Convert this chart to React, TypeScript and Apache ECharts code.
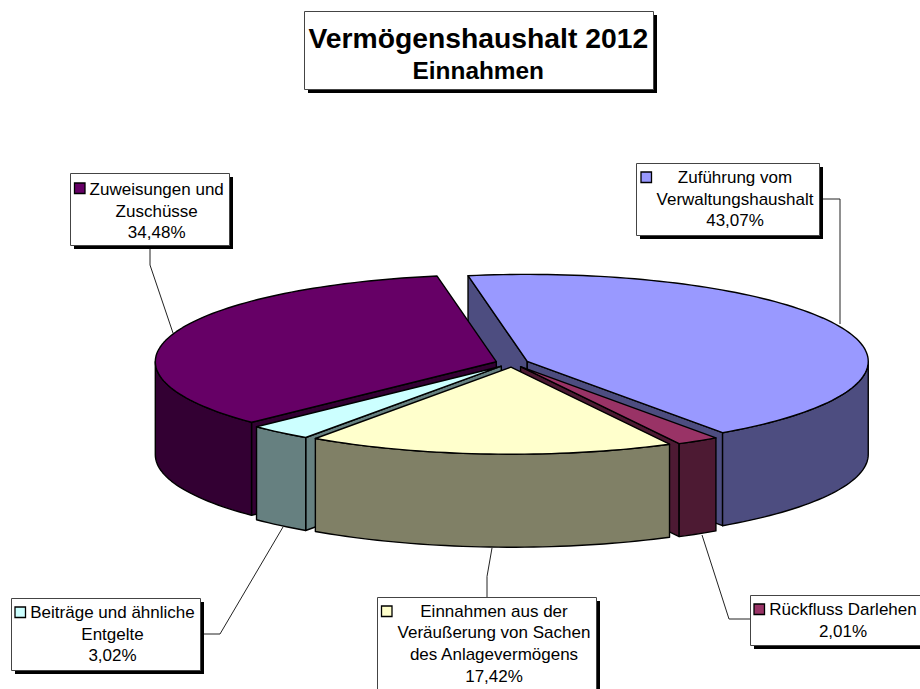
import React, { useEffect, useRef } from "react";
import * as echarts from "echarts";

const titleLines = ["Vermögenshaushalt 2012", "Einnahmen"];
const sliceNames = [
  "Zuführung vom Verwaltungshaushalt",
  "Rückfluss Darlehen",
  "Einnahmen aus der Veräußerung von Sachen des Anlagevermögens",
  "Beiträge und ähnliche Entgelte",
  "Zuweisungen und Zuschüsse",
];
const sliceValues = [43.07, 2.01, 17.42, 3.02, 34.48];
const topColors = ["#9999FF", "#993366", "#FFFFCC", "#CCFFFF", "#660066"];
const wallColors = ["#4D4D80", "#4D1A33", "#808066", "#668080", "#330033"];
// painter's order, back to front, as indexes into the slices
const paintOrder = [0, 4, 1, 3, 2];
const labelLines = [
  ["Zuführung vom", "Verwaltungshaushalt"],
  ["Rückfluss Darlehen"],
  ["Einnahmen aus der", "Veräußerung von Sachen", "des Anlagevermögens"],
  ["Beiträge und ähnliche", "Entgelte"],
  ["Zuweisungen und", "Zuschüsse"],
];

// layout
const CX = 512, CY = 363, RX = 341, RY = 87, DEPTH = 93, EXPLODE = 16.5, START_DEG = -10;
const FONT = '"Liberation Sans", Arial, sans-serif';
const labelBoxes = [
  { x: 636, y: 163, w: 183, h: 72, key: [641, 172], tx: 735, ty: 177.5, leader: [[819, 199], [840, 199], [840, 324]] },
  { x: 750, y: 595, w: 172, h: 50, key: [754, 604], tx: 843, ty: 609.8, leader: [[750, 619], [729, 619], [702, 535]] },
  { x: 377, y: 597, w: 219, h: 94, key: [381.5, 606], tx: 494, ty: 611, leader: [[487, 597], [487, 576.5], [492, 548]] },
  { x: 11, y: 598, w: 189, h: 72, key: [15, 607], tx: 112.5, ty: 612.5, leader: [[200, 634], [220, 634], [283, 527]] },
  { x: 70, y: 173, w: 159, h: 72, key: [74.5, 183], tx: 156.7, ty: 189.5, leader: [[150, 245], [150, 265], [173, 333]] },
];

const total = sliceValues.reduce((a, b) => a + b, 0);
const rad = (d: number) => (d * Math.PI) / 180;
const pct = (v: number) => v.toFixed(2).replace(".", ",") + "%";

function renderSlice(params: any) {
  const i = params.dataIndex;
  let before = 0;
  for (let k = 0; k < i; k++) before += sliceValues[k];
  const a0 = START_DEG + (before / total) * 360;
  const a1 = a0 + (sliceValues[i] / total) * 360;
  const mid = (a0 + a1) / 2;
  const tipX = CX + EXPLODE * Math.sin(rad(mid));
  const tipY = CY - EXPLODE * Math.cos(rad(mid)) * (RY / RX);
  const pt = (a: number, drop = 0): number[] => [
    tipX + RX * Math.sin(rad(a)),
    tipY - RY * Math.cos(rad(a)) + drop,
  ];
  const arc = (from: number, to: number, drop = 0) => {
    const out: number[][] = [];
    const n = Math.max(2, Math.ceil(Math.abs(to - from) / 1.5));
    for (let s = 0; s <= n; s++) out.push(pt(from + ((to - from) * s) / n, drop));
    return out;
  };
  const rank = paintOrder.indexOf(i) * 10 + 1;
  const line = { stroke: "#000", lineWidth: 1.4, lineJoin: "round" };
  const wall = { ...line, fill: wallColors[i] };
  const children: any[] = [];
  const radial = (a: number, z: number) => ({
    type: "polygon",
    z2: rank + z,
    shape: { points: [[tipX, tipY], pt(a), pt(a, DEPTH), [tipX, tipY + DEPTH]] },
    style: wall,
  });
  // a cut face is seen only when it turns towards the viewer
  if (Math.sin(rad(a0)) < 0) children.push(radial(a0, 0));
  if (Math.sin(rad(a1)) > 0) children.push(radial(a1, 1));
  // outer wall: only the part of the rim that faces the viewer
  const visFrom = Math.max(a0, 90);
  const visTo = Math.min(a1, 270);
  if (visTo > visFrom) {
    children.push({
      type: "polygon",
      z2: rank + 2,
      shape: { points: [...arc(visFrom, visTo), ...arc(visTo, visFrom, DEPTH)] },
      style: wall,
    });
  }
  children.push({
    type: "polygon",
    z2: rank + 3,
    shape: { points: [[tipX, tipY], ...arc(a0, a1)] },
    style: { ...line, fill: topColors[i] },
  });
  return { type: "group", children };
}

function box(x: number, y: number, w: number, h: number) {
  return [
    { type: "rect", z: 5, shape: { x: x + 4, y: y + 4, width: w, height: h }, style: { fill: "#000" } },
    { type: "rect", z: 6, shape: { x: x + 0.5, y: y + 0.5, width: w, height: h }, style: { fill: "#fff", stroke: "#444", lineWidth: 1 } },
  ] as any[];
}

function textLine(text: string, x: number, y: number, size: number, weight = "normal") {
  return {
    type: "text",
    z: 8,
    x,
    y,
    style: { text, fontFamily: FONT, fontSize: size, fontWeight: weight, fill: "#000", align: "center", verticalAlign: "middle" },
  };
}

function buildGraphics() {
  const out: any[] = [...box(304, 11, 349, 78)];
  out.push(textLine(titleLines[0], 478.3, 37.5, 28.3, "bold"));
  out.push(textLine(titleLines[1], 478.3, 70.5, 24.4, "bold"));
  labelBoxes.forEach((b, i) => {
    out.push({
      type: "polyline",
      z: 4,
      shape: { points: b.leader },
      style: { stroke: "#222", lineWidth: 1, fill: "none" },
    });
    out.push(...box(b.x, b.y, b.w, b.h));
    out.push({
      type: "rect",
      z: 7,
      shape: { x: b.key[0], y: b.key[1], width: 10.5, height: 10.5 },
      style: { fill: topColors[i], stroke: "#000", lineWidth: 1.3 },
    });
    [...labelLines[i], pct(sliceValues[i])].forEach((t, k) => {
      out.push(textLine(t, b.tx, b.ty + k * 21.7, 17));
    });
  });
  return out;
}

export default function App() {
  const ref = useRef<HTMLDivElement>(null);
  useEffect(() => {
    const chart = echarts.init(ref.current!, undefined, { renderer: "svg" });
    chart.setOption({
      animation: false,
      backgroundColor: "#fff",
      series: [
        {
          type: "custom",
          coordinateSystem: "none",
          silent: true,
          clip: false,
          renderItem: renderSlice,
          data: sliceNames.map((name, i) => ({ name, value: sliceValues[i] })),
        },
      ],
      graphic: { elements: buildGraphics() },
    });
    return () => chart.dispose();
  }, []);
  return <div ref={ref} style={{ position: "fixed", left: 0, top: 0, width: 920, height: 689 }} />;
}
